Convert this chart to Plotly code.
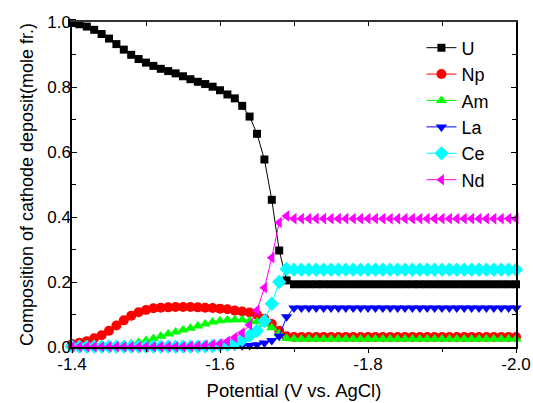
import plotly.graph_objects as go

potential = [-1.40, -1.41, -1.42, -1.43, -1.44, -1.45, -1.46, -1.47, -1.48, -1.49,
             -1.50, -1.51, -1.52, -1.53, -1.54, -1.55, -1.56, -1.57, -1.58, -1.59,
             -1.60, -1.61, -1.62, -1.63, -1.64, -1.65, -1.66, -1.67, -1.68, -1.69,
             -1.70, -1.71, -1.72, -1.73, -1.74, -1.75, -1.76, -1.77, -1.78, -1.79,
             -1.80, -1.81, -1.82, -1.83, -1.84, -1.85, -1.86, -1.87, -1.88, -1.89,
             -1.90, -1.91, -1.92, -1.93, -1.94, -1.95, -1.96, -1.97, -1.98, -1.99,
             -2.00]

U = [0.997, 0.993, 0.986, 0.976, 0.963, 0.949, 0.932, 0.915, 0.899, 0.886,
     0.875, 0.865, 0.856, 0.849, 0.842, 0.833, 0.824, 0.816, 0.809, 0.801,
     0.790, 0.777, 0.765, 0.742, 0.709, 0.656, 0.577, 0.453, 0.297, 0.205,
     0.193, 0.193, 0.193, 0.193, 0.193, 0.193, 0.193, 0.193, 0.193, 0.193,
     0.193, 0.193, 0.193, 0.193, 0.193, 0.193, 0.193, 0.193, 0.193, 0.193,
     0.193, 0.193, 0.193, 0.193, 0.193, 0.193, 0.193, 0.193, 0.193, 0.193,
     0.193]

Np = [0.009, 0.013, 0.018, 0.027, 0.036, 0.050, 0.066, 0.082, 0.096, 0.107,
      0.114, 0.119, 0.121, 0.122, 0.123, 0.123, 0.123, 0.122, 0.121, 0.120,
      0.118, 0.116, 0.112, 0.109, 0.106, 0.099, 0.087, 0.071, 0.050, 0.033,
      0.031, 0.031, 0.031, 0.031, 0.031, 0.031, 0.031, 0.031, 0.031, 0.031,
      0.031, 0.031, 0.031, 0.031, 0.031, 0.031, 0.031, 0.031, 0.031, 0.031,
      0.031, 0.031, 0.031, 0.031, 0.031, 0.031, 0.031, 0.031, 0.031, 0.031,
      0.031]

Am = [0.003, 0.003, 0.003, 0.003, 0.004, 0.004, 0.005, 0.007, 0.010, 0.015,
      0.020, 0.026, 0.033, 0.040, 0.046, 0.052, 0.058, 0.065, 0.071, 0.077,
      0.081, 0.083, 0.084, 0.084, 0.081, 0.078, 0.071, 0.059, 0.041, 0.026,
      0.025, 0.025, 0.025, 0.025, 0.025, 0.025, 0.025, 0.025, 0.025, 0.025,
      0.025, 0.025, 0.025, 0.025, 0.025, 0.025, 0.025, 0.025, 0.025, 0.025,
      0.025, 0.025, 0.025, 0.025, 0.025, 0.025, 0.025, 0.025, 0.025, 0.025,
      0.025]

La = [0.001, 0.001, 0.001, 0.001, 0.001, 0.001, 0.001, 0.001, 0.001, 0.001,
      0.001, 0.001, 0.001, 0.001, 0.001, 0.001, 0.001, 0.001, 0.001, 0.001,
      0.001, 0.002, 0.003, 0.004, 0.005, 0.007, 0.012, 0.020, 0.033, 0.093,
      0.120, 0.120, 0.120, 0.120, 0.120, 0.120, 0.120, 0.120, 0.120, 0.120,
      0.120, 0.120, 0.120, 0.120, 0.120, 0.120, 0.120, 0.120, 0.120, 0.120,
      0.120, 0.120, 0.120, 0.120, 0.120, 0.120, 0.120, 0.120, 0.120, 0.120,
      0.120]

Ce = [0.001, 0.001, 0.001, 0.001, 0.001, 0.001, 0.001, 0.001, 0.001, 0.001,
      0.001, 0.001, 0.001, 0.001, 0.001, 0.001, 0.001, 0.001, 0.002, 0.003,
      0.004, 0.007, 0.011, 0.022, 0.035, 0.050, 0.080, 0.133, 0.200, 0.240,
      0.238, 0.238, 0.238, 0.238, 0.238, 0.238, 0.238, 0.238, 0.238, 0.238,
      0.238, 0.238, 0.238, 0.238, 0.238, 0.238, 0.238, 0.238, 0.238, 0.238,
      0.238, 0.238, 0.238, 0.238, 0.238, 0.238, 0.238, 0.238, 0.238, 0.238,
      0.238]

Nd = [0.001, 0.001, 0.001, 0.001, 0.001, 0.001, 0.001, 0.001, 0.001, 0.001,
      0.001, 0.001, 0.001, 0.001, 0.001, 0.001, 0.002, 0.003, 0.005, 0.007,
      0.010, 0.018, 0.029, 0.044, 0.068, 0.113, 0.182, 0.275, 0.383, 0.403,
      0.395, 0.395, 0.395, 0.395, 0.395, 0.395, 0.395, 0.395, 0.395, 0.395,
      0.395, 0.395, 0.395, 0.395, 0.395, 0.395, 0.395, 0.395, 0.395, 0.395,
      0.395, 0.395, 0.395, 0.395, 0.395, 0.395, 0.395, 0.395, 0.395, 0.395,
      0.395]

x_ticks = [-1.4, -1.6, -1.8, -2.0]
x_tick_labels = ["-1.4", "-1.6", "-1.8", "-2.0"]
x_minor = [-1.5, -1.7, -1.9]
x_top_ticks = [-1.4, -1.5, -1.6, -1.7, -1.8, -1.9, -2.0]

series = [
    ("U", U, "#000000", "square", 8),
    ("Np", Np, "#ff0000", "circle", 10),
    ("Am", Am, "#00ff00", "triangle-up", 10),
    ("La", La, "#0000ff", "triangle-down", 10),
    ("Ce", Ce, "#00ffff", "diamond", 11),
    ("Nd", Nd, "#ff00ff", "triangle-left", 10),
]

FONT = "Liberation Sans, Arial, sans-serif"

fig = go.Figure()
for name, vals, color, sym, size in series:
    fig.add_trace(go.Scatter(
        x=potential, y=vals, name=name, mode="lines+markers",
        line=dict(color=color, width=1),
        marker=dict(color=color, symbol=sym, size=size, line=dict(width=0)),
        cliponaxis=False,
    ))

# invisible trace to carry the top axis
fig.add_trace(go.Scatter(x=[-1.4], y=[None], xaxis="x2", showlegend=False,
                         hoverinfo="skip", mode="markers"))

fig.update_layout(
    width=533, height=403,
    margin=dict(l=72, r=17, t=22, b=56, autoexpand=False),
    paper_bgcolor="white", plot_bgcolor="white",
    font=dict(family=FONT, color="black", size=17),
    showlegend=True,
    legend=dict(x=0.787, y=0.977, xanchor="left", yanchor="top",
                bgcolor="rgba(0,0,0,0)", font=dict(size=18, family=FONT),
                tracegroupgap=0, itemsizing="trace"),
    xaxis=dict(
        range=[-1.4, -2.0], tickmode="array", tickvals=x_ticks, ticktext=x_tick_labels,
        ticks="outside", ticklen=4, tickwidth=1, tickcolor="black",
        minor=dict(tickmode="array", tickvals=x_minor, ticks="outside", ticklen=3,
                   tickcolor="black", showgrid=False),
        showline=True, linecolor="black", linewidth=1.5, mirror=False,
        showgrid=False, zeroline=False, automargin=False,
        tickfont=dict(size=17), ticklabelstandoff=-3,
        title=dict(text="Potential (V vs. AgCl)", font=dict(size=18.5), standoff=11),
    ),
    xaxis2=dict(
        range=[-1.4, -2.0], overlaying="x", side="top", tickmode="array",
        tickvals=x_top_ticks, ticks="inside", ticklen=4, tickcolor="black",
        showticklabels=False, showline=True, linecolor="#333333", linewidth=1.5,
        showgrid=False, zeroline=False, automargin=False,
    ),
    yaxis=dict(
        range=[0, 1.0], tickmode="linear", tick0=0, dtick=0.2, tickformat=".1f",
        ticks="inside", ticklen=5, tickwidth=1, tickcolor="black",
        minor=dict(dtick=0.1, ticks="inside", ticklen=4, tickcolor="black", showgrid=False),
        showline=True, linecolor="black", linewidth=1.5, mirror="ticks",
        showgrid=False, zeroline=False, automargin=False,
        tickfont=dict(size=17), ticklabelstandoff=-4,
        title=dict(text="Composition of cathode deposit(mole fr.)", font=dict(size=18),
                   standoff=9),
    ),
)

fig.write_html("out.html", config={"displayModeBar": False},
               post_script="document.body.style.margin='0px';")
